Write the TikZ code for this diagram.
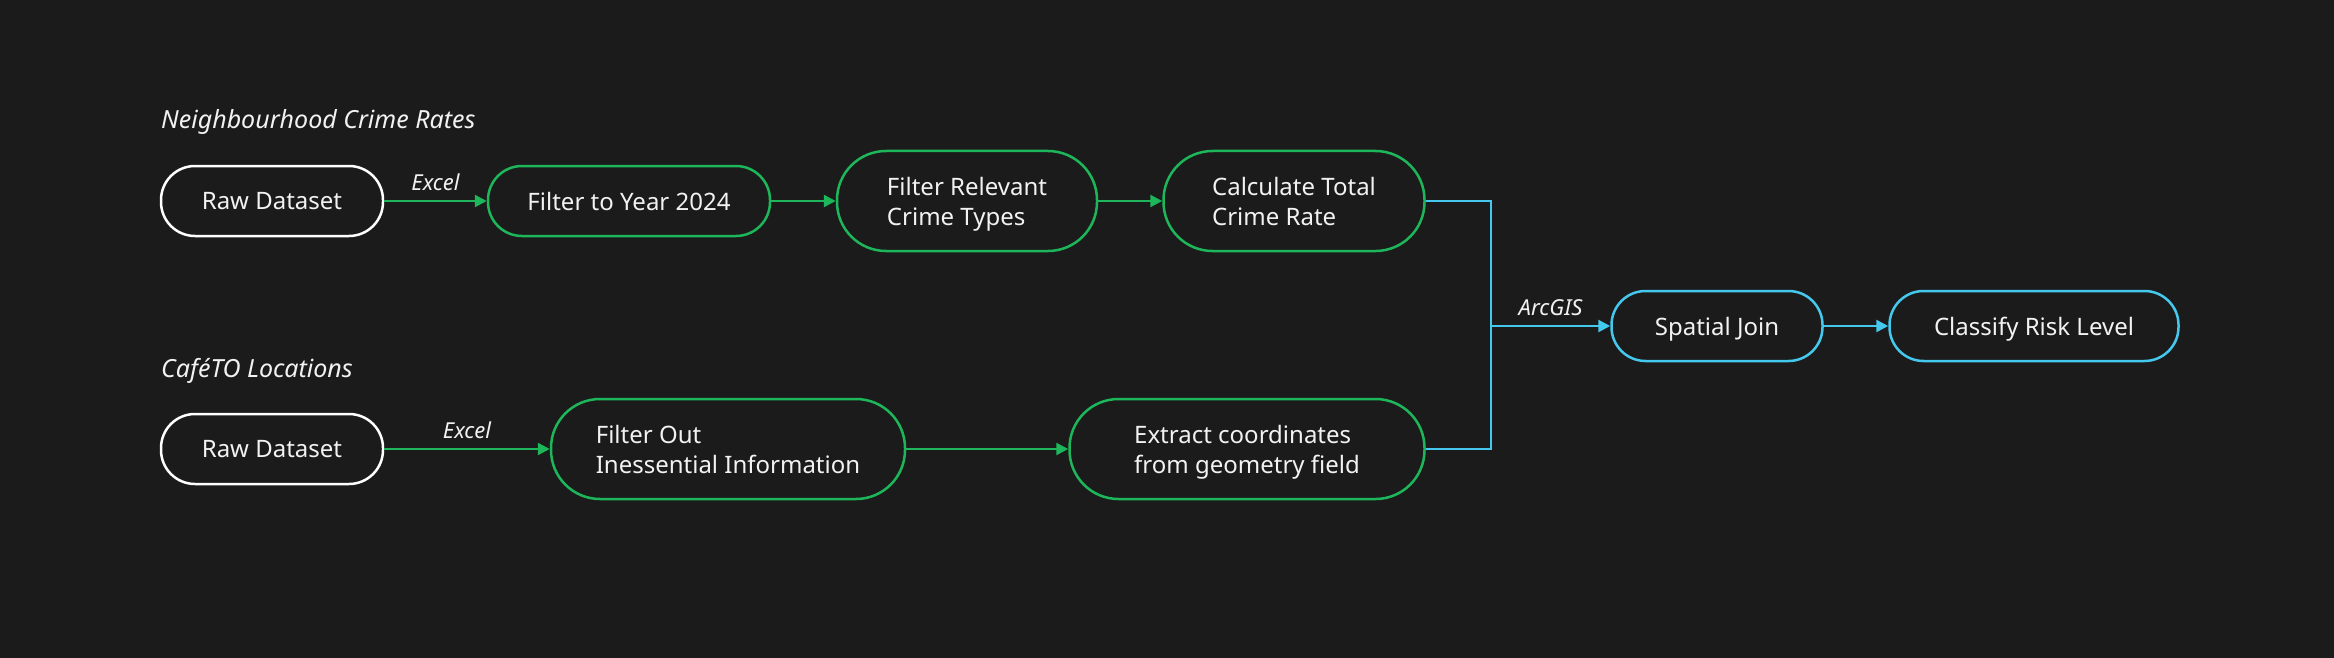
\documentclass[tikz,border=0pt]{standalone}
\usepackage{fontspec}
\setmainfont{Noto Sans}
\usetikzlibrary{arrows.meta}

\definecolor{bg}{HTML}{1B1B1B}
\definecolor{flowgreen}{HTML}{1DB65A}
\definecolor{flowcyan}{HTML}{45C8EE}
\definecolor{txt}{HTML}{F2F2F2}

\tikzset{
  stage/.style={draw, line width=2.5pt, text=txt, rounded corners=34pt,
    minimum height=70pt, align=left, inner sep=0pt, text depth=0pt,
    font=\fontsize{24}{30}\selectfont},
  tallstage/.style={stage, rounded corners=49pt, minimum height=100pt},
  flow/.style={line width=2.5pt, -{Triangle[length=12pt,width=12pt]}},
  tool/.style={text=txt, font=\fontsize{22}{26}\selectfont\itshape, above=6pt},
  heading/.style={text=txt, anchor=west, inner sep=0pt,
    font=\fontsize{25}{30}\selectfont\itshape}
}

\begin{document}
\begin{tikzpicture}[x=1pt, y=1pt]
  \fill[bg] (0,0) rectangle (2334,-658);

  % Kriminalitaet
  \node[heading] (titleA) at (161,-122) {Neighbourhood Crime Rates};
  \node[stage, draw=white, minimum width=222pt] (rawA) at (272,-201) {Raw Dataset};
  \node[stage, draw=flowgreen, minimum width=282pt] (yearA) at (629,-201) {Filter to Year 2024};
  \node[tallstage, draw=flowgreen, minimum width=260pt] (typesA) at (967,-201) {Filter Relevant\\Crime Types};
  \node[tallstage, draw=flowgreen, minimum width=261pt] (totalA) at (1294,-201) {Calculate Total\\Crime Rate};

  \draw[flow, flowgreen] (rawA) -- node[tool] {Excel} (yearA);
  \draw[flow, flowgreen] (yearA) -- (typesA);
  \draw[flow, flowgreen] (typesA) -- (totalA);

  % CafeTO
  \node[heading] (titleB) at (161,-371) {CaféTO Locations};
  \node[stage, draw=white, minimum width=222pt] (rawB) at (272,-449) {Raw Dataset};
  \node[tallstage, draw=flowgreen, minimum width=354pt] (infoB) at (728,-449) {Filter Out\\Inessential Information};
  \node[tallstage, draw=flowgreen, minimum width=355pt] (coordB) at (1247,-449) {Extract coordinates\\from geometry field};

  \draw[flow, flowgreen] (rawB) -- node[tool] {Excel} (infoB);
  \draw[flow, flowgreen] (infoB) -- (coordB);

  % Zusammenfuehrung
  \coordinate (merge) at (1491,-326);
  \node[stage, draw=flowcyan, minimum width=211pt] (join) at (1717,-326) {Spatial Join};
  \node[stage, draw=flowcyan, minimum width=289pt] (risk) at (2034,-326) {Classify Risk Level};

  \draw[flowcyan, line width=2.5pt] (totalA.east) -| (merge);
  \draw[flowcyan, line width=2.5pt] (coordB.east) -| (merge);
  \draw[flow, flowcyan] (merge) -- node[tool] {ArcGIS} (join);
  \draw[flow, flowcyan] (join) -- (risk);
\end{tikzpicture}
\end{document}
